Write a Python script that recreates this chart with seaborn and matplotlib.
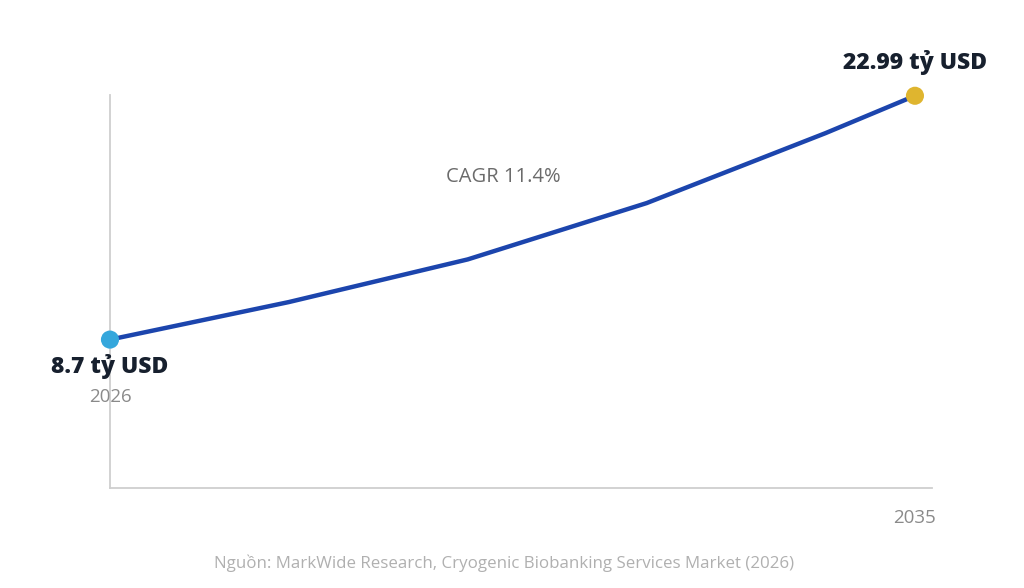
import pandas as pd
import matplotlib
matplotlib.use("Agg")
import matplotlib.pyplot as plt
import seaborn as sns

# ── data ───────────────────────────────────────────────────
years = [2026, 2028, 2030, 2032, 2034, 2035]
values = [8.7, 10.9, 13.4, 16.7, 20.8, 22.99]
start_label = "8.7 tỷ USD"
end_label = "22.99 tỷ USD"
cagr_label = "CAGR 11.4%"
source = "Nguồn: MarkWide Research, Cryogenic Biobanking Services Market (2026)"

df = pd.DataFrame({"year": years, "value": values})

sns.set_theme(style="white")
plt.rcParams["font.family"] = ["Open Sans", "DejaVu Sans"]

fig = plt.figure(figsize=(10.24, 5.88), dpi=100)
ax = fig.add_axes([0.1074, 0.170, 0.8027, 0.668])

sns.lineplot(data=df, x="year", y="value", ax=ax, color="#1c45ad",
             linewidth=3.2, solid_capstyle="round")
sns.scatterplot(data=df.iloc[[0]], x="year", y="value", ax=ax,
                color="#35a7dc", s=170, edgecolor="none", zorder=5,
                clip_on=False)
sns.scatterplot(data=df.iloc[[-1]], x="year", y="value", ax=ax,
                color="#dfb52f", s=170, edgecolor="none", zorder=5,
                clip_on=False)

ax.set_xlim(2026, 2035.19)
ax.set_ylim(0, 23.02)
ax.set_xticks([])
ax.set_yticks([])
ax.set_xlabel("")
ax.set_ylabel("")
for side in ["top", "right"]:
    ax.spines[side].set_visible(False)
for side in ["left", "bottom"]:
    ax.spines[side].set_color("#cfcfcf")
    ax.spines[side].set_linewidth(1.3)

dark = "#17202e"
ax.annotate(start_label, (years[0], values[0]), xytext=(0, -19.5),
            textcoords="offset points", ha="center", va="center",
            fontsize=16.5, fontweight=800, color=dark, annotation_clip=False)
ax.annotate(str(years[0]), (years[0], values[0]), xytext=(0, -41),
            textcoords="offset points", ha="center", va="center",
            fontsize=13.5, color="#8a8a8a", annotation_clip=False)
ax.annotate(end_label, (years[-1], values[-1]), xytext=(0, 24),
            textcoords="offset points", ha="center", va="center",
            fontsize=16.5, fontweight=800, color=dark, annotation_clip=False)
ax.annotate(str(years[-1]), (years[-1], 0), xytext=(0, -21.5),
            textcoords="offset points", ha="center", va="center",
            fontsize=13.5, color="#8a8a8a", annotation_clip=False)

fig.text(503 / 1024, 1 - 177 / 588, cagr_label, ha="center", va="center",
         fontsize=14.5, color="#6b6b6b")
fig.text(504 / 1024, 1 - 563 / 588, source, ha="center", va="center",
         fontsize=12.2, color="#b0b0b0")

fig.savefig("out.png", dpi=100)
